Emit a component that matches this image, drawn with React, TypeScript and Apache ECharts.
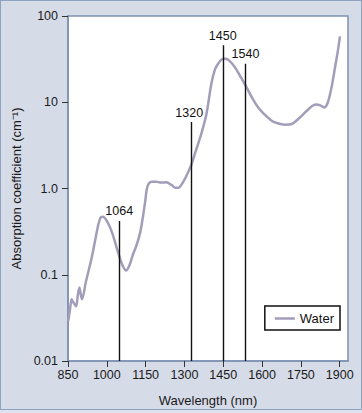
import React, { useEffect, useRef } from "react";
import * as echarts from "echarts";

const waterWavelengths = [851, 858, 864, 872, 881, 888, 894, 899, 904, 920, 940, 958, 968, 976, 985, 1000, 1020, 1044, 1060, 1075, 1088, 1102, 1115, 1129, 1140, 1148, 1155, 1163, 1174, 1190, 1210, 1230, 1250, 1265, 1278, 1288, 1305, 1327, 1345, 1365, 1385, 1404, 1418, 1430, 1445, 1456, 1470, 1495, 1520, 1543, 1565, 1585, 1610, 1637, 1660, 1688, 1715, 1740, 1760, 1779, 1795, 1811, 1825, 1841, 1852, 1863, 1872, 1882, 1892, 1901];
const waterAbsorption = [0.029, 0.04, 0.052, 0.047, 0.043, 0.058, 0.071, 0.06, 0.052, 0.085, 0.15, 0.28, 0.39, 0.46, 0.47, 0.42, 0.31, 0.18, 0.13, 0.112, 0.13, 0.175, 0.22, 0.31, 0.48, 0.7, 1.0, 1.15, 1.2, 1.2, 1.17, 1.18, 1.1, 1.02, 1.02, 1.1, 1.35, 1.9, 2.8, 4.3, 7.3, 16.4, 24, 28, 31.5, 32, 31, 25.5, 19, 14.3, 10.8, 8.7, 7.2, 6.1, 5.7, 5.5, 5.6, 6.4, 7.3, 8.3, 9.1, 9.4, 9.2, 8.7, 9.6, 12.5, 17, 25.5, 38, 58];

const markerLabels = ["1064", "1320", "1450", "1540"];
const markerPositions = [1048, 1326, 1448, 1536];
const markerTops = [0.42, 5.9, 45.7, 28];

const xTickValues = [850, 1000, 1150, 1300, 1450, 1600, 1750, 1900];
const yTickLabels = ["0.01", "0.1", "1.0", "10", "100"];

const FONT = "'Liberation Sans', Arial, sans-serif";

export default function App() {
  const ref = useRef<HTMLDivElement>(null);

  useEffect(() => {
    if (!ref.current) return;
    const chart = echarts.init(ref.current, undefined, { renderer: "svg" });
    const waterData = waterWavelengths.map((w, i) => [w, waterAbsorption[i]]);
    const markLineData = markerPositions.map((x, i) => [
      { coord: [x, 0.01] },
      {
        coord: [x, markerTops[i]],
        label: {
          show: true,
          position: "end",
          formatter: markerLabels[i],
          offset: i === 1 ? [-2, 0] : [0, 0],
        },
      },
    ]);

    chart.setOption({
      animation: false,
      textStyle: { fontFamily: FONT },
      grid: {
        left: 68,
        top: 16,
        right: 14,
        bottom: 52,
        show: true,
        backgroundColor: "#ffffff",
        borderColor: "#7d92b2",
        borderWidth: 1.5,
      },
      legend: {
        data: ["Water"],
        right: 22,
        top: 306,
        orient: "vertical",
        icon: "rect",
        backgroundColor: "#ffffff",
        borderColor: "#111111",
        borderWidth: 1.5,
        padding: [6, 6, 5, 10],
        itemWidth: 20,
        itemHeight: 2.5,
        itemGap: 4,
        textStyle: { fontFamily: FONT, fontSize: 13, color: "#111" },
      },
      xAxis: {
        type: "value",
        min: 850,
        max: 1932,
        name: "Wavelength (nm)",
        nameLocation: "middle",
        nameGap: 33,
        nameTextStyle: { fontFamily: FONT, fontSize: 13, color: "#1a1a1a" },
        splitLine: { show: false },
        axisLine: { show: true, lineStyle: { color: "#7d92b2", width: 1.5 } },
        axisTick: {
          show: true,
          length: 6,
          inside: false,
          customValues: xTickValues,
          lineStyle: { color: "#333", width: 1 },
        },
        axisLabel: {
          customValues: xTickValues,
          fontFamily: FONT,
          fontSize: 12.5,
          color: "#1a1a1a",
          margin: 7,
          formatter: (v: number) => String(Math.round(v)),
        },
      },
      yAxis: {
        type: "log",
        logBase: 10,
        min: 0.01,
        max: 100,
        name: "Absorption coefficient (cm\u207B\u00B9)",
        nameLocation: "middle",
        nameGap: 37,
        nameTextStyle: { fontFamily: FONT, fontSize: 13, color: "#1a1a1a" },
        splitLine: { show: false },
        axisLine: { show: true, lineStyle: { color: "#7d92b2", width: 1.5 } },
        axisTick: { show: true, length: 6, lineStyle: { color: "#333", width: 1 } },
        axisLabel: {
          fontFamily: FONT,
          fontSize: 12.5,
          color: "#1a1a1a",
          margin: 10,
          formatter: (v: number) => {
            const k = Math.round(Math.log10(v)) + 2;
            return yTickLabels[k] ?? "";
          },
        },
      },
      series: [
        {
          name: "Water",
          type: "line",
          data: waterData,
          symbol: "none",
          smooth: 0.3,
          lineStyle: { color: "#a39dba", width: 2.5 },
          itemStyle: { color: "#a39dba" },
          z: 2,
          markLine: {
            silent: true,
            symbol: ["none", "none"],
            lineStyle: { color: "#111111", width: 1.4, type: "solid" },
            label: {
              show: true,
              position: "end",
              fontFamily: FONT,
              fontSize: 12.5,
              color: "#111",
              distance: 3,
            },
            emphasis: { disabled: true },
            data: markLineData,
          },
        },
      ],
    });
    return () => chart.dispose();
  }, []);

  return (
    <div
      style={{
        position: "absolute",
        left: 0,
        top: 0,
        width: 362,
        height: 413,
        background: "#dde2ee",
      }}
    >
      <div
        style={{
          position: "absolute",
          left: 0,
          top: 0,
          width: 362,
          height: 410,
          boxSizing: "border-box",
          border: "1.5px solid #8fa2c0",
          background: "#d6dbe8",
        }}
      >
        <div ref={ref} style={{ position: "absolute", left: -1.5, top: -1.5, width: 362, height: 413 }} />
      </div>
    </div>
  );
}
